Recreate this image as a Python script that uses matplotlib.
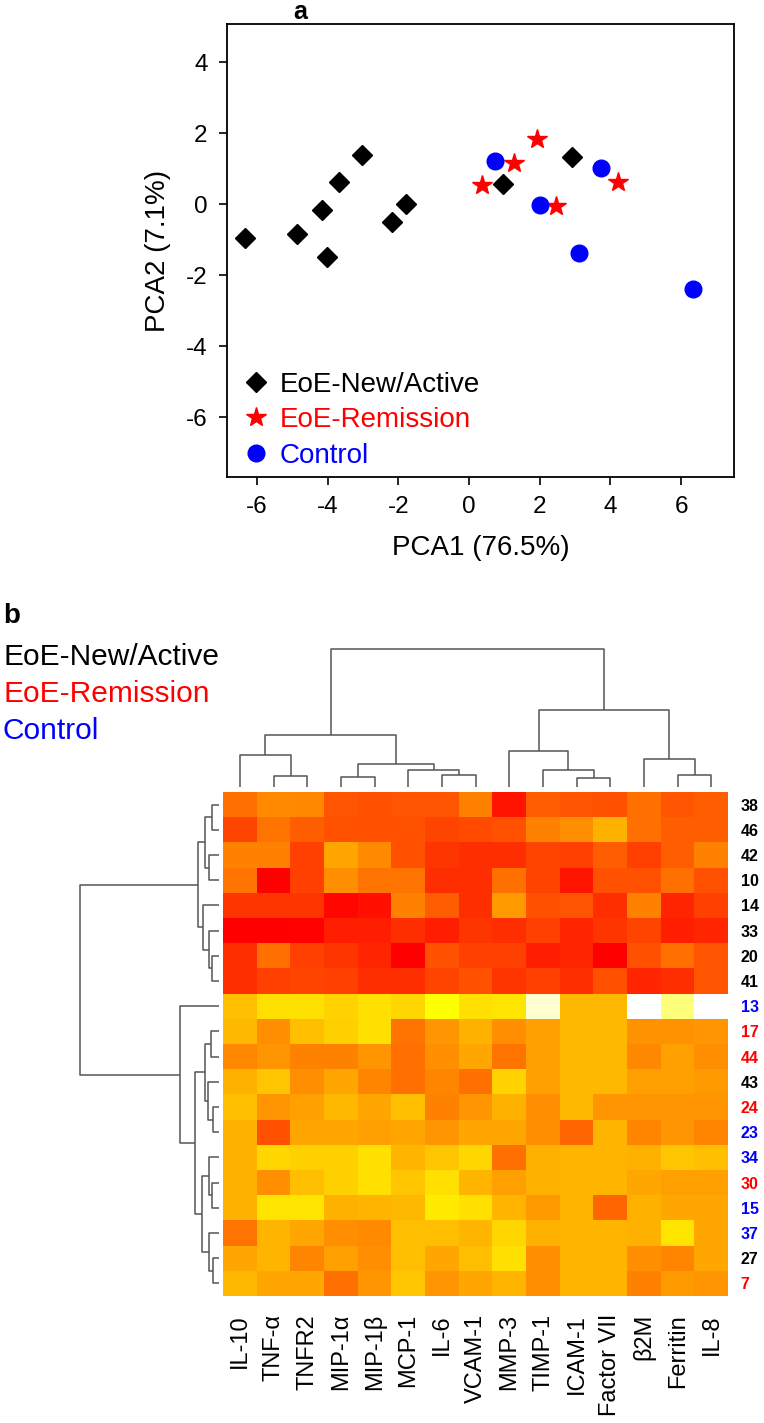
import matplotlib
matplotlib.use("Agg")
import matplotlib.pyplot as plt
import numpy as np
from matplotlib.colors import LinearSegmentedColormap

plt.rcParams['font.family'] = ['Liberation Sans', 'DejaVu Sans']
plt.rcParams['axes.unicode_minus'] = False

W, H = 764, 1423

# ── Panel a: PCA scores ─────────────────────────────────
active_x = [-6.34, -4.87, -4.16, -4.02, -3.69, -3.03, -2.18, -1.77, 0.95, 2.91]
active_y = [-0.94, -0.83, -0.15, -1.48, 0.63, 1.40, -0.50, 0.00, 0.57, 1.32]
remission_x = [0.36, 1.26, 1.92, 2.46, 4.23]
remission_y = [0.55, 1.16, 1.85, -0.05, 0.63]
control_x = [0.74, 2.01, 3.12, 3.74, 6.34]
control_y = [1.21, -0.03, -1.36, 1.02, -2.39]

# ── Panel b: heatmap ────────────────────────────────────
markers = ["IL-10", "TNF-α", "TNFR2", "MIP-1α", "MIP-1β", "MCP-1", "IL-6",
           "VCAM-1", "MMP-3", "TIMP-1", "ICAM-1", "Factor VII", "β2M",
           "Ferritin", "IL-8"]
patients = ["38", "46", "42", "10", "14", "33", "20", "41", "13", "17", "44",
            "43", "24", "23", "34", "30", "15", "37", "27", "7"]
groups = ["A", "A", "A", "A", "A", "A", "A", "A", "C", "R", "R",
          "A", "R", "C", "C", "R", "C", "C", "A", "R"]

# scaled levels (0 = red, 0.75 = yellow, 1 = white)
heat = np.array([
    [0.33, 0.41, 0.40, 0.25, 0.24, 0.25, 0.25, 0.38, 0.06, 0.28, 0.25, 0.24, 0.33, 0.25, 0.28],
    [0.20, 0.34, 0.28, 0.24, 0.24, 0.24, 0.20, 0.22, 0.24, 0.38, 0.42, 0.52, 0.33, 0.28, 0.28],
    [0.38, 0.38, 0.19, 0.49, 0.41, 0.24, 0.16, 0.14, 0.14, 0.20, 0.19, 0.28, 0.19, 0.28, 0.38],
    [0.34, 0.00, 0.19, 0.42, 0.34, 0.34, 0.14, 0.14, 0.33, 0.20, 0.06, 0.24, 0.24, 0.33, 0.24],
    [0.16, 0.16, 0.16, 0.02, 0.05, 0.38, 0.28, 0.14, 0.45, 0.24, 0.25, 0.14, 0.38, 0.11, 0.19],
    [0.00, 0.00, 0.01, 0.09, 0.09, 0.14, 0.09, 0.16, 0.14, 0.19, 0.11, 0.16, 0.20, 0.09, 0.11],
    [0.14, 0.33, 0.19, 0.16, 0.11, 0.00, 0.24, 0.19, 0.19, 0.09, 0.11, 0.00, 0.24, 0.33, 0.25],
    [0.14, 0.19, 0.20, 0.19, 0.14, 0.14, 0.20, 0.24, 0.16, 0.19, 0.14, 0.24, 0.11, 0.14, 0.25],
    [0.56, 0.66, 0.66, 0.62, 0.66, 0.63, 0.75, 0.66, 0.67, 0.95, 0.54, 0.54, 1.00, 0.87, 1.00],
    [0.54, 0.42, 0.56, 0.61, 0.66, 0.34, 0.44, 0.52, 0.42, 0.47, 0.54, 0.54, 0.43, 0.43, 0.44],
    [0.40, 0.44, 0.38, 0.38, 0.44, 0.33, 0.42, 0.49, 0.34, 0.47, 0.54, 0.54, 0.40, 0.47, 0.42],
    [0.52, 0.58, 0.42, 0.49, 0.39, 0.33, 0.39, 0.33, 0.62, 0.47, 0.54, 0.54, 0.47, 0.47, 0.45],
    [0.56, 0.44, 0.47, 0.54, 0.49, 0.56, 0.38, 0.44, 0.52, 0.42, 0.54, 0.44, 0.44, 0.44, 0.44],
    [0.52, 0.24, 0.49, 0.49, 0.47, 0.49, 0.44, 0.49, 0.49, 0.42, 0.30, 0.53, 0.39, 0.44, 0.39],
    [0.52, 0.63, 0.61, 0.61, 0.66, 0.53, 0.58, 0.63, 0.33, 0.52, 0.53, 0.53, 0.52, 0.58, 0.56],
    [0.52, 0.42, 0.56, 0.61, 0.66, 0.58, 0.66, 0.53, 0.47, 0.52, 0.53, 0.53, 0.49, 0.47, 0.47],
    [0.52, 0.67, 0.67, 0.52, 0.53, 0.54, 0.69, 0.66, 0.53, 0.45, 0.53, 0.30, 0.52, 0.49, 0.49],
    [0.34, 0.53, 0.49, 0.42, 0.41, 0.56, 0.56, 0.53, 0.63, 0.52, 0.53, 0.53, 0.52, 0.67, 0.49],
    [0.49, 0.53, 0.39, 0.47, 0.42, 0.56, 0.49, 0.56, 0.66, 0.42, 0.53, 0.53, 0.42, 0.39, 0.49],
    [0.54, 0.49, 0.49, 0.33, 0.44, 0.58, 0.44, 0.49, 0.53, 0.42, 0.53, 0.53, 0.38, 0.45, 0.44],
])

# dendrogram merges: [node a, node b, height]; new nodes numbered after leaves
col_merges = [
    [1, 2, 10.7], [0, 15, 31.7], [3, 4, 10.0], [6, 7, 11.7], [5, 18, 16.7],
    [17, 19, 23.4], [16, 20, 51.7], [10, 11, 9.4], [9, 22, 16.7], [8, 23, 36.0],
    [13, 14, 11.7], [12, 25, 28.4], [24, 26, 76.7], [21, 27, 138.4],
]
row_merges = [
    [0, 1, 7.3], [2, 3, 9.7], [20, 21, 14.0], [6, 7, 7.3], [5, 23, 9.7],
    [4, 24, 16.3], [22, 25, 20.7], [9, 10, 8.3], [12, 13, 6.3], [11, 28, 10.7],
    [27, 29, 14.0], [15, 16, 7.0], [14, 31, 9.7], [18, 19, 6.3], [17, 33, 9.7],
    [32, 34, 17.3], [30, 35, 24.0], [8, 36, 39.0], [26, 37, 139.0],
]

group_colors = {"A": "black", "R": "#FF0000", "C": "#0000FF"}


def box(l, t, r, b):
    return [l / W, 1 - b / H, (r - l) / W, (b - t) / H]


def draw_dendro(ax, merges, n, vertical):
    pos = list(range(n))
    hgt = [0.0] * n
    for a, b, h in merges:
        xs = [pos[a], pos[a], pos[b], pos[b]]
        ys = [hgt[a], h, h, hgt[b]]
        if vertical:
            ax.plot(xs, ys, color="#555555", lw=1.1, solid_capstyle="butt")
        else:
            ax.plot(ys, xs, color="#555555", lw=1.1, solid_capstyle="butt")
        pos.append((pos[a] + pos[b]) / 2)
        hgt.append(h)


fig = plt.figure(figsize=(W / 100, H / 100), dpi=100)

# -- Panel a --
ax = fig.add_axes(box(227, 24, 734, 477))
ax.plot(active_x, active_y, "D", color="black", ms=10.5, ls="none",
        label="EoE-New/Active")
ax.plot(remission_x, remission_y, "*", color="#FF0000", ms=15, ls="none",
        label="EoE-Remission")
ax.plot(control_x, control_y, "o", color="#0000FF", ms=12, ls="none",
        label="Control")
ax.set_xlim(-6.85, 7.5)
ax.set_ylim(-7.68, 5.08)
ax.set_xticks([-6, -4, -2, 0, 2, 4, 6])
ax.set_yticks([-6, -4, -2, 0, 2, 4])
ax.tick_params(labelsize=17.5, length=6, width=1.2, pad=8)
for s in ax.spines.values():
    s.set_linewidth(1.3)
ax.set_xlabel("PCA1 (76.5%)", fontsize=20)
ax.set_ylabel("PCA2 (7.1%)", fontsize=20)
ax.xaxis.set_label_coords(0.5, -0.128)
ax.yaxis.set_label_coords(-0.11, 0.5)
ax.legend(loc="lower left", bbox_to_anchor=(0.008, -0.012), frameon=False,
          fontsize=20, handlelength=0.8, handletextpad=0.45,
          labelspacing=0.34, borderpad=0, labelcolor="linecolor")
fig.text(300 / W, 1 - 12 / H, "a", fontsize=18, fontweight="bold",
         ha="center", va="center")

# -- Panel b: heatmap --
cmap = LinearSegmentedColormap.from_list(
    "heat", [(0.0, "#FF0000"), (0.75, "#FFFF00"), (1.0, "#FFFFFF")])
axh = fig.add_axes(box(223.3, 792, 728.3, 1296))
axh.imshow(heat, cmap=cmap, vmin=0, vmax=1, aspect="auto",
           interpolation="nearest")
axh.set_xticks(range(len(markers)))
axh.set_xticklabels(markers, rotation=90, fontsize=17)
axh.yaxis.tick_right()
axh.set_yticks(range(len(patients)))
axh.set_yticklabels(patients, fontsize=11.5, fontweight="bold")
for lab, g in zip(axh.get_yticklabels(), groups):
    lab.set_color(group_colors[g])
    lab.set_horizontalalignment("left")
axh.tick_params(axis="x", length=0, pad=13)
axh.tick_params(axis="y", length=0, pad=9)
for s in axh.spines.values():
    s.set_visible(False)

# column dendrogram
axc = fig.add_axes(box(223.3, 640, 728.3, 787))
draw_dendro(axc, col_merges, len(markers), True)
axc.set_xlim(-0.5, len(markers) - 0.5)
axc.set_ylim(0, 147)
axc.axis("off")

# row dendrogram
axr = fig.add_axes(box(70, 792, 219, 1296))
draw_dendro(axr, row_merges, len(patients), False)
axr.set_xlim(149, 0)
axr.set_ylim(len(patients) - 0.5, -0.5)
axr.axis("off")

fig.text(3 / W, 1 - 616 / H, "b", fontsize=20, fontweight="bold",
         ha="left", va="center")
for txt, g, yy in [("EoE-New/Active", "A", 657), ("EoE-Remission", "R", 694),
                   ("Control", "C", 731)]:
    fig.text(3 / W, 1 - yy / H, txt, fontsize=21.5, color=group_colors[g],
             ha="left", va="center")

fig.savefig("out.png", dpi=100)
